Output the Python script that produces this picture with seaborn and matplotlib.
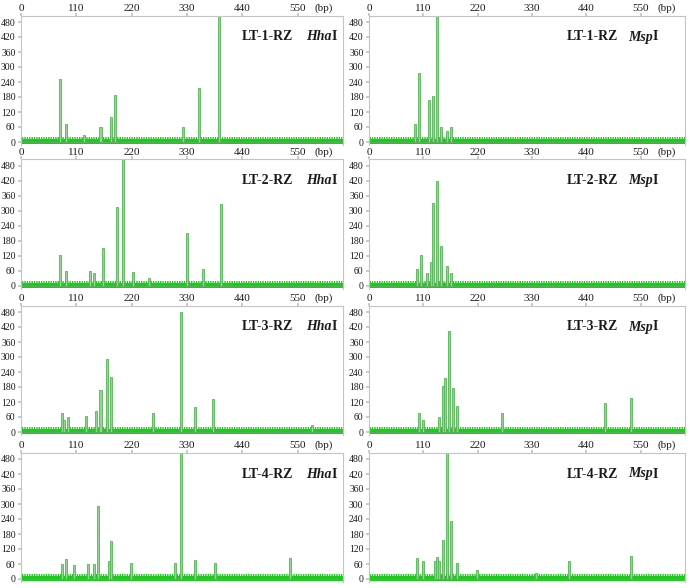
import numpy as np
import pandas as pd
import matplotlib
matplotlib.use('Agg')
import matplotlib.pyplot as plt
import seaborn as sns

# T-RFLP peaks: fragment size (bp) and peak height
lt1_hha_bp = [77, 88, 124, 157, 178, 187, 320, 352, 393]
lt1_hha_h = [252, 73, 29, 60, 99, 189, 60, 215, 510]
lt1_msp_bp = [94, 100, 121, 128, 136, 144, 156, 164]
lt1_msp_h = [72, 276, 169, 183, 510, 60, 43, 60]

lt2_hha_bp = [79, 90, 139, 147, 162, 191, 201, 221, 253, 328, 363, 398]
lt2_hha_h = [122, 60, 60, 53, 150, 317, 510, 57, 33, 212, 66, 328]
lt2_msp_bp = [98, 106, 119, 125, 129, 138, 145, 156, 165]
lt2_msp_h = [69, 124, 53, 97, 331, 420, 160, 80, 53]

lt3_hha_bp = [80, 87, 94, 131, 148, 156, 169, 178, 260, 318, 344, 381, 578]
lt3_hha_h = [78, 48, 59, 66, 85, 169, 291, 219, 78, 480, 100, 134, 30]
lt3_msp_bp = [100, 108, 143, 150, 155, 163, 171, 179, 270, 476, 530]
lt3_msp_h = [78, 50, 61, 185, 216, 405, 176, 105, 78, 115, 135]

lt4_hha_bp = [82, 91, 104, 132, 147, 155, 172, 179, 218, 307, 318, 347, 384, 532]
lt4_hha_h = [62, 79, 55, 61, 61, 293, 73, 152, 66, 66, 510, 78, 66, 86]
lt4_msp_bp = [99, 108, 132, 138, 142, 148, 156, 166, 176, 219, 336, 404, 530]
lt4_msp_h = [86, 72, 72, 88, 72, 158, 510, 232, 64, 38, 25, 71, 91]

samples = ['LT-1-RZ', 'LT-2-RZ', 'LT-3-RZ', 'LT-4-RZ']
enzymes = ['Hha', 'Msp']
peaks = [
    [(lt1_hha_bp, lt1_hha_h), (lt1_msp_bp, lt1_msp_h)],
    [(lt2_hha_bp, lt2_hha_h), (lt2_msp_bp, lt2_msp_h)],
    [(lt3_hha_bp, lt3_hha_h), (lt3_msp_bp, lt3_msp_h)],
    [(lt4_hha_bp, lt4_hha_h), (lt4_msp_bp, lt4_msp_h)],
]
x_ticks = [0, 110, 220, 330, 440, 550]
y_ticks = [0, 60, 120, 180, 240, 300, 360, 420, 480]

sns.set_theme(style='white')
plt.rcParams['font.family'] = ['Liberation Serif', 'DejaVu Serif']

W, H = 689, 588
fig = plt.figure(figsize=(W / 100, H / 100), dpi=100)

# layout in pixels
col_x = [(21, 343), (369, 685)]
row_zero = [142, 286, 432, 579]
y_lo, y_hi = -12, 506
px_unit = 0.25
label_x = [(439, 566), (401, 524)]

noise_c = '#22c822'
peak_fill = '#8fd68f'
peak_edge = '#55b455'
spine_c = '#c4c4c4'
txt_c = '#1a1a1a'

for r in range(4):
    for c in range(2):
        x0, x1 = col_x[c]
        top = row_zero[r] - y_hi * px_unit
        h = (y_hi - y_lo) * px_unit
        ax = fig.add_axes([x0 / W, 1 - (top + h) / H, (x1 - x0) / W, h / H])

        # baseline noise band
        ax.fill_between([0, 640], -8, 12, color=noise_c, lw=0)
        ax.fill_between([0, 640], 8, 20, facecolor='none', edgecolor=noise_c,
                        hatch='|||||||', lw=0)

        bp, ht = peaks[r][c]
        df = pd.DataFrame({'bp': bp, 'height': ht})
        sns.histplot(data=df, x='bp', weights='height', binwidth=4,
                     binrange=(0, 644), ax=ax, color=peak_fill, alpha=1,
                     edgecolor=peak_edge, linewidth=0.6)

        ax.set_xlim(0, 640)
        ax.set_ylim(y_lo, y_hi)
        ax.set_xlabel('')
        ax.set_ylabel('')
        ax.xaxis.tick_top()
        ax.set_xticks(x_ticks)
        ax.set_xticklabels([str(t) for t in x_ticks], fontsize=8)
        ax.set_yticks(y_ticks)
        ax.set_yticklabels([str(t) for t in y_ticks], fontsize=7)
        ax.tick_params(axis='x', top=True, bottom=False, length=2, pad=0,
                       color=spine_c, labelcolor=txt_c)
        ax.tick_params(axis='y', left=True, length=2, pad=2,
                       color=spine_c, labelcolor=txt_c)
        ax.annotate('(bp)', xy=(602, 1), xycoords=('data', 'axes fraction'),
                    xytext=(0, 1.5), textcoords='offset points', fontsize=8,
                    ha='center', va='bottom', color=txt_c)

        for side in ['top', 'left', 'right']:
            ax.spines[side].set_color(spine_c)
            ax.spines[side].set_linewidth(0.8)
        ax.spines['bottom'].set_visible(False)

        lx1, lx2 = label_x[c]
        ax.text(lx1, 420, samples[r], fontsize=10, fontweight='bold',
                va='center', color=txt_c)
        t = ax.text(lx2, 420, enzymes[c], fontsize=10, fontweight='bold',
                    style='italic', va='center', color=txt_c)
        ax.annotate('I', xy=(1, 0.5), xycoords=t, fontsize=10, fontweight='bold',
                    va='center', ha='left', color=txt_c)

fig.savefig('out.png', dpi=100)
